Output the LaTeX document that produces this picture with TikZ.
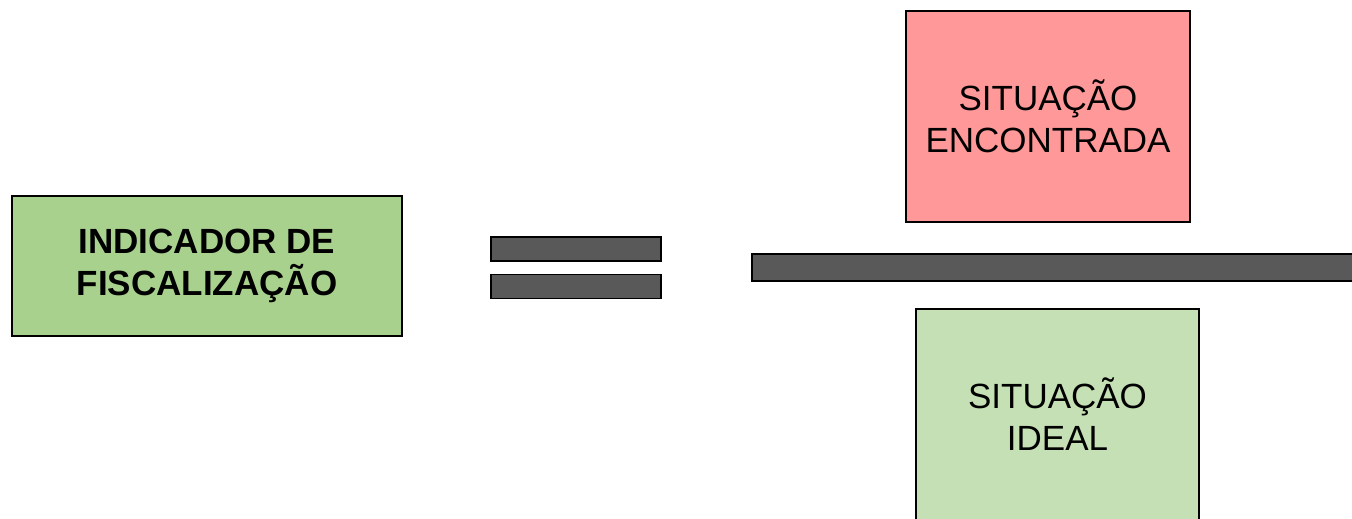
\documentclass[tikz,border=0pt]{standalone}
\usepackage{fontspec}
\setmainfont{Liberation Sans}
\usetikzlibrary{positioning}

\definecolor{indgreen}{HTML}{A9D18E}
\definecolor{idealgreen}{HTML}{C5E0B4}
\definecolor{encred}{HTML}{FF9999}
\definecolor{bargray}{HTML}{595959}

\tikzstyle{termbox}=[draw=black,line width=1.5pt,rectangle,inner sep=0pt,align=center,font=\fontsize{35}{42}\selectfont]
\tikzstyle{barbox}=[draw=black,line width=1.5pt,fill=bargray,rectangle,inner sep=0pt]

\begin{document}
\begin{tikzpicture}[x=1pt, y=-1pt]
    \clip (0,0) rectangle (1352,519);
    % left side: the indicator
    \node[termbox, fill=indgreen, minimum width=390pt, minimum height=140pt] (ind) at (207,266) {\textbf{INDICADOR DE}\\\textbf{FISCALIZAÇÃO}};
    % equals sign
    \foreach \pos/\name in {{(576,249)/eqtop}, {(576,286.5)/eqbot}}
        \node[barbox, minimum width=170pt, minimum height=24pt] (\name) at \pos {};
    % right side: the fraction
    \node[termbox, fill=encred, minimum width=284pt, minimum height=211pt] (enc) at (1048,116.5) {SITUAÇÃO\\ENCONTRADA};
    \node[barbox, minimum width=608pt, minimum height=27pt] (frac) at (1056,267.5) {};
    \node[termbox, fill=idealgreen, minimum width=283pt, minimum height=211pt] (ideal) at (1057.5,414.5) {SITUAÇÃO\\IDEAL};
\end{tikzpicture}
\end{document}
